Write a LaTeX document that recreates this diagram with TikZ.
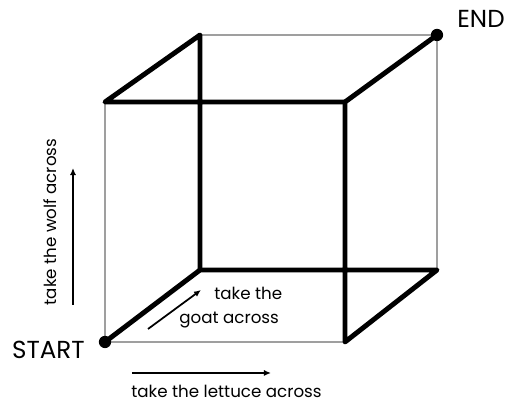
\documentclass[tikz,border=0pt]{standalone}
\usepackage{fontspec}
\setmainfont{Poppins}
\usetikzlibrary{arrows.meta}
\begin{document}
\begin{tikzpicture}[x=0.02cm,y=-0.02cm,
  thick edge/.style={line width=2.8pt,line cap=round,line join=round},
  thin edge/.style={line width=1.2pt,draw=gray!75},
  hint/.style={line width=1pt,-{Latex[length=4pt,width=3.5pt]}},
  lbl/.style={font=\fontsize{9.5pt}{11pt}\selectfont,inner sep=0pt},
  big/.style={font=\fontsize{14pt}{16pt}\selectfont,inner sep=0pt},
  dot/.style={circle,fill=black,inner sep=0pt,minimum size=7pt}]
\useasboundingbox (0,0) rectangle (512,404);
% vertices
\coordinate (fbl) at (105,342);
\coordinate (fbr) at (345,342);
\coordinate (ftl) at (105,102);
\coordinate (ftr) at (345,102);
\coordinate (bbl) at (200,270);
\coordinate (bbr) at (437,270);
\coordinate (btl) at (200,35);
\coordinate (btr) at (437,35);
% thin edges
\draw[thin edge] (fbl) -- (fbr);
\draw[thin edge] (fbl) -- (ftl);
\draw[thin edge] (btl) -- (btr);
\draw[thin edge] (btr) -- (bbr);
% thick edges
\draw[thick edge] (fbl) -- (bbl) -- (bbr) -- (fbr) -- (ftr) -- (btr);
\draw[thick edge] (ftr) -- (ftl) -- (btl) -- (bbl);
% dots
\node[dot] (start) at (fbl) {};
\node[dot] (end) at (btr) {};
% labels
\node[big,anchor=east] (startlbl) at (85,350) {START};
\node[big,anchor=west] (endlbl) at (457,19) {END};
% hints
\coordinate (la1) at (132,373);
\coordinate (la2) at (271,373);
\draw[hint] (la1) -- (la2);
\node[lbl,anchor=west] (lettuce) at (131,391) {take the lettuce across};
\coordinate (wa1) at (73,305);
\coordinate (wa2) at (73,168);
\draw[hint] (wa1) -- (wa2);
\node[lbl,rotate=90,anchor=south] (wolf) at (57,222) {take the wolf across};
\coordinate (ga1) at (148,329);
\coordinate (ga2) at (201,290);
\draw[hint] (ga1) -- (ga2);
\node[lbl,anchor=west] (goat1) at (214,293) {take the};
\node[lbl,anchor=west] (goat2) at (179,320) {goat across};
\end{tikzpicture}
\end{document}
